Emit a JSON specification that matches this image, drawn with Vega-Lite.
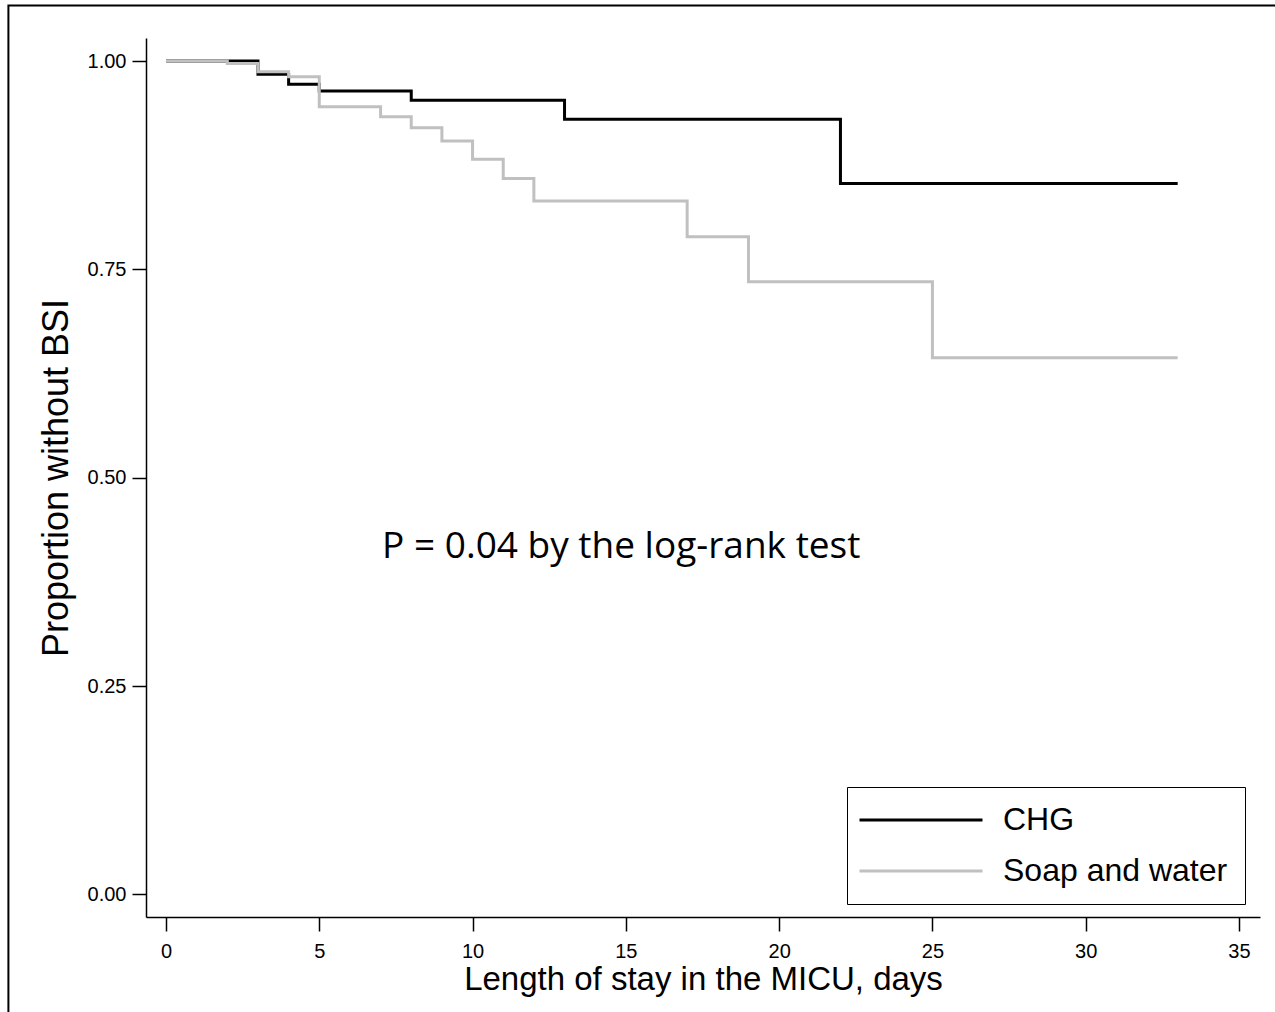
{
  "$schema": "https://vega.github.io/schema/vega-lite/v6.json",
  "width": 1114,
  "height": 879,
  "autosize": {"type": "none"},
  "padding": {"left": 146, "top": 38, "right": 15, "bottom": 95},
  "background": "white",
  "config": {
    "view": {"stroke": null},
    "axis": {
      "grid": false,
      "domainColor": "black",
      "domainWidth": 1.5,
      "tickColor": "black",
      "tickWidth": 1.5,
      "tickSize": 14,
      "labelColor": "black",
      "labelFont": "Liberation Sans",
      "labelFontSize": 20,
      "labelFlush": false,
      "labelOverlap": false,
      "titleColor": "black",
      "titleFont": "Liberation Sans",
      "titleFontWeight": "normal"
    }
  },
  "datasets": {
    "km": [
      {"group": "CHG", "day": 0, "surv": 1.0},
      {"group": "CHG", "day": 2, "surv": 1.0},
      {"group": "CHG", "day": 3, "surv": 0.984},
      {"group": "CHG", "day": 4, "surv": 0.972},
      {"group": "CHG", "day": 5, "surv": 0.964},
      {"group": "CHG", "day": 8, "surv": 0.953},
      {"group": "CHG", "day": 13, "surv": 0.930},
      {"group": "CHG", "day": 22, "surv": 0.853},
      {"group": "CHG", "day": 33, "surv": 0.853},
      {"group": "Soap and water", "day": 0, "surv": 1.0},
      {"group": "Soap and water", "day": 2, "surv": 0.997},
      {"group": "Soap and water", "day": 3, "surv": 0.987},
      {"group": "Soap and water", "day": 4, "surv": 0.981},
      {"group": "Soap and water", "day": 5, "surv": 0.945},
      {"group": "Soap and water", "day": 7, "surv": 0.933},
      {"group": "Soap and water", "day": 8, "surv": 0.920},
      {"group": "Soap and water", "day": 9, "surv": 0.904},
      {"group": "Soap and water", "day": 10, "surv": 0.882},
      {"group": "Soap and water", "day": 11, "surv": 0.859},
      {"group": "Soap and water", "day": 12, "surv": 0.832},
      {"group": "Soap and water", "day": 17, "surv": 0.789},
      {"group": "Soap and water", "day": 19, "surv": 0.735},
      {"group": "Soap and water", "day": 25, "surv": 0.644},
      {"group": "Soap and water", "day": 33, "surv": 0.644}
    ],
    "note": [{"label": "P = 0.04 by the log-rank test"}],
    "frame": [{}]
  },
  "layer": [
    {
      "data": {"name": "frame"},
      "mark": {"type": "rect", "fill": null, "stroke": "black", "strokeWidth": 2},
      "encoding": {
        "x": {"datum": -5.14, "type": "quantitative"},
        "x2": {"datum": 40},
        "y": {"datum": 1.0666, "type": "quantitative"},
        "y2": {"datum": -0.3}
      }
    },
    {
      "data": {"name": "km"},
      "mark": {"type": "line", "interpolate": "step-after", "strokeWidth": 3},
      "encoding": {
        "x": {
          "field": "day",
          "type": "quantitative",
          "scale": {"domain": [-0.652, 35.685], "nice": false, "zero": false},
          "axis": {
            "title": "Length of stay in the MICU, days",
            "values": [0, 5, 10, 15, 20, 25, 30, 35],
            "labelPadding": 10,
            "titleFontSize": 33,
            "titlePadding": 2
          }
        },
        "y": {
          "field": "surv",
          "type": "quantitative",
          "scale": {"domain": [-0.0272, 1.0276], "nice": false, "zero": false},
          "axis": {
            "title": "Proportion without BSI",
            "values": [0, 0.25, 0.5, 0.75, 1],
            "format": ".2f",
            "labelPadding": 6,
            "titleFontSize": 36,
            "titlePadding": 12
          }
        },
        "color": {
          "field": "group",
          "type": "nominal",
          "scale": {"domain": ["CHG", "Soap and water"], "range": ["#000000", "#c0c0c0"]},
          "legend": {
            "orient": "none",
            "legendX": 701,
            "legendY": 749,
            "title": null,
            "strokeColor": "black",
            "fillColor": "white",
            "padding": 17,
            "symbolType": "M-2.05,0H10.25",
            "symbolSize": 400,
            "symbolStrokeWidth": 3,
            "labelFontSize": 32,
            "labelFont": "Liberation Sans",
            "labelColor": "black",
            "labelLimit": 400,
            "labelOffset": 107,
            "rowPadding": 19
          }
        }
      }
    },
    {
      "data": {"name": "note"},
      "mark": {"type": "text", "align": "left", "baseline": "alphabetic", "font": "Open Sans", "fontSize": 37, "color": "black"},
      "encoding": {
        "text": {"field": "label"},
        "x": {"datum": 7.05, "type": "quantitative"},
        "y": {"datum": 0.4036, "type": "quantitative"}
      }
    }
  ]
}
